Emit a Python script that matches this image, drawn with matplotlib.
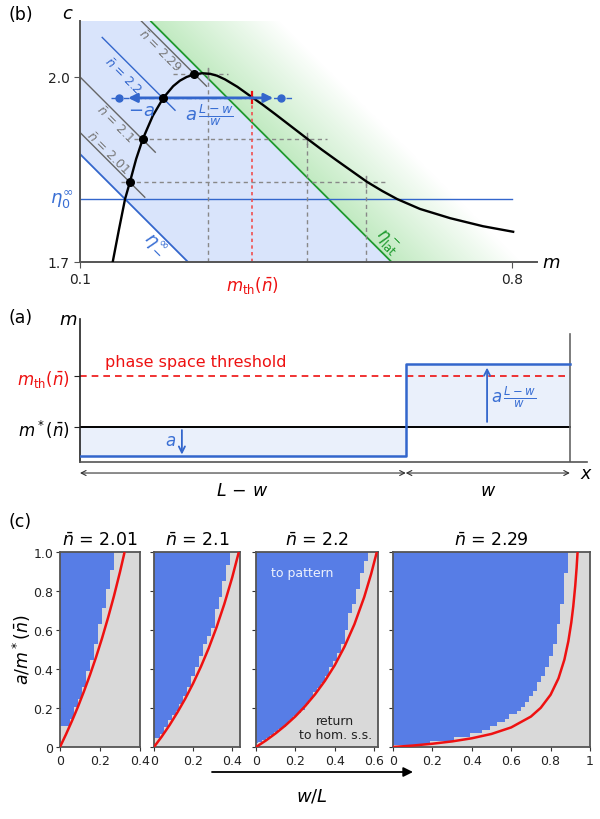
import numpy as np
import matplotlib
matplotlib.use('Agg')
import matplotlib.pyplot as plt

plt.rcParams['font.family'] = ['DejaVu Sans']
plt.rcParams['mathtext.fontset'] = 'dejavusans'

# ---------------- data: panel (b), phase space ----------------
nullcline_m = [0.153, 0.163, 0.173, 0.181, 0.191, 0.202, 0.218, 0.235, 0.251, 0.262,
               0.273, 0.285, 0.298, 0.311, 0.322, 0.335, 0.355, 0.376, 0.396, 0.416,
               0.442, 0.468, 0.492, 0.517, 0.541, 0.565, 0.590, 0.614, 0.651, 0.700,
               0.753, 0.802]
nullcline_c = [1.700, 1.752, 1.802, 1.830, 1.867, 1.900, 1.937, 1.966, 1.985, 1.994,
               2.000, 2.004, 2.006, 2.005, 2.002, 1.996, 1.984, 1.969, 1.955, 1.940,
               1.920, 1.900, 1.882, 1.864, 1.847, 1.830, 1.815, 1.802, 1.786, 1.771,
               1.758, 1.749]

nbar_values = [2.01, 2.1, 2.2, 2.29]
nbar_labels = ['2.01', '2.1', '2.2', '2.29']
nbar_left_m = [0.181, 0.202, 0.235, 0.285]      # homogeneous steady states
nbar_left_c = [1.830, 1.900, 1.966, 2.005]
nbar_right_m = [0.563, 0.468, 0.379, 0.307]     # threshold on the right branch
nbar_seg_m0 = [0.100, 0.100, 0.136, 0.198]
nbar_seg_m1 = [0.205, 0.222, 0.254, 0.305]
nbar_label_m = [0.144, 0.157, 0.168, 0.228]
nbar_label_c = [1.878, 1.925, 2.002, 2.044]

eta0_inf = 1.802
eta_minus_sum = 1.975
eta_lat_sum = 2.305
m_th_value = 0.379
perturb_left_m = 0.163
perturb_right_m = 0.426

# ---------------- data: panel (a), schematic profile ----------------
m_star_level = 1.0
m_th_level = 2.0
low_level = 0.43
high_level = 2.235
w_frac = 0.335

# ---------------- data: panel (c), outcome maps ----------------
panel_nbar = ['2.01', '2.1', '2.2', '2.29']
panel_xmax = [0.40, 0.44, 0.62, 1.0]

w_grid_1 = [0.00, 0.02, 0.04, 0.06, 0.08, 0.10, 0.12, 0.14, 0.16, 0.18, 0.20, 0.22,
            0.24, 0.26, 0.28]
a_thr_1 = [0.107, 0.107, 0.107, 0.145, 0.204, 0.247, 0.306, 0.388, 0.447, 0.527,
           0.629, 0.711, 0.808, 0.910, 1.0]

w_grid_2 = [0.00, 0.02, 0.04, 0.06, 0.08, 0.10, 0.12, 0.14, 0.16, 0.18, 0.20, 0.22,
            0.24, 0.26, 0.28, 0.30, 0.32, 0.34, 0.36, 0.38, 0.40]
a_thr_2 = [0.048, 0.048, 0.068, 0.102, 0.136, 0.165, 0.187, 0.221, 0.264, 0.306,
           0.366, 0.410, 0.468, 0.527, 0.570, 0.612, 0.709, 0.769, 0.850, 0.935, 1.0]

w_grid_3 = [0.00, 0.02, 0.04, 0.06, 0.08, 0.10, 0.12, 0.14, 0.16, 0.18, 0.20, 0.22,
            0.24, 0.26, 0.28, 0.30, 0.32, 0.34, 0.36, 0.38, 0.40, 0.42, 0.44, 0.46,
            0.48, 0.50, 0.52, 0.54, 0.56, 0.58]
a_thr_3 = [0.020, 0.026, 0.037, 0.048, 0.060, 0.077, 0.090, 0.104, 0.121, 0.138,
           0.157, 0.172, 0.190, 0.221, 0.247, 0.280, 0.305, 0.330, 0.366, 0.408,
           0.442, 0.480, 0.527, 0.600, 0.689, 0.731, 0.808, 0.893, 0.952, 1.0]

w_grid_4 = [0.00, 0.02, 0.04, 0.06, 0.08, 0.10, 0.12, 0.14, 0.16, 0.18, 0.20, 0.22,
            0.24, 0.26, 0.28, 0.30, 0.32, 0.34, 0.36, 0.38, 0.40, 0.42, 0.44, 0.46,
            0.48, 0.50, 0.52, 0.54, 0.56, 0.58, 0.60, 0.62, 0.64, 0.66, 0.68, 0.70,
            0.72, 0.74, 0.76, 0.78, 0.80, 0.82, 0.84, 0.86, 0.88, 0.90]
a_thr_4 = [0.012, 0.012, 0.012, 0.012, 0.012, 0.012, 0.012, 0.012, 0.012, 0.012,
           0.031, 0.031, 0.031, 0.031, 0.031, 0.031, 0.051, 0.051, 0.051, 0.051,
           0.071, 0.071, 0.071, 0.088, 0.088, 0.107, 0.107, 0.128, 0.128, 0.145,
           0.170, 0.170, 0.187, 0.207, 0.230, 0.264, 0.289, 0.332, 0.366, 0.408,
           0.468, 0.527, 0.629, 0.731, 0.893, 1.0]

# linear-stability threshold curves  a/m* vs w/L
red_w_1 = [0.0, 0.03, 0.06, 0.09, 0.12, 0.15, 0.18, 0.21, 0.24, 0.27, 0.30, 0.323]
red_a_1 = [0.0, 0.065, 0.134, 0.207, 0.286, 0.370, 0.460, 0.557, 0.662, 0.775, 0.898, 1.0]
red_w_2 = [0.0, 0.04, 0.08, 0.12, 0.16, 0.20, 0.24, 0.28, 0.32, 0.36, 0.40, 0.434]
red_a_2 = [0.0, 0.054, 0.113, 0.178, 0.248, 0.326, 0.412, 0.507, 0.614, 0.734, 0.869, 1.0]
red_w_3 = [0.0, 0.05, 0.10, 0.15, 0.20, 0.25, 0.30, 0.35, 0.40, 0.45, 0.50, 0.55, 0.585, 0.614]
red_a_3 = [0.0, 0.033, 0.070, 0.111, 0.157, 0.210, 0.270, 0.339, 0.419, 0.515, 0.629, 0.769, 0.887, 1.0]
red_w_4 = [0.0, 0.1, 0.2, 0.3, 0.4, 0.5, 0.6, 0.7, 0.75, 0.8, 0.84, 0.87, 0.89, 0.905,
           0.915, 0.925, 0.932, 0.937]
red_a_4 = [0.0, 0.0074, 0.0168, 0.0287, 0.0447, 0.067, 0.1005, 0.156, 0.201, 0.268,
           0.352, 0.448, 0.542, 0.638, 0.721, 0.826, 0.918, 1.0]

# ---------------- styling ----------------
BLUE = '#3366cc'
BLUE_TXT = '#3a6fd4'
GREEN = '#1f9a2e'
RED = '#ee1111'
GRAY = '#666666'
SPINE = '#555555'
MAP_BLUE = '#577de6'
MAP_GRAY = '#d9d9d9'

W, H = 600, 820
def fx(x): return x / W
def fy(y): return 1 - y / H
def box(x0, y0, x1, y1): return [x0 / W, 1 - y1 / H, (x1 - x0) / W, (y1 - y0) / H]

fig = plt.figure(figsize=(6, 8.2), dpi=100)

# ======================= panel (b) =======================
axb = fig.add_axes(box(80, 22.4, 536.6, 263))
mlo, mhi, clo, chi = 0.1, 0.84, 1.7, 2.09
axb.set_xlim(mlo, mhi)
axb.set_ylim(clo, chi)
for s in ['top', 'right']:
    axb.spines[s].set_visible(False)
for s in ['left', 'bottom']:
    axb.spines[s].set_color(SPINE)
    axb.spines[s].set_linewidth(1.4)

# green fading region beyond the lateral-instability line
mm, cc = np.meshgrid(np.linspace(mlo, mhi, 400), np.linspace(clo, chi, 220))
t = (mm + cc - eta_lat_sum) / 0.21
alpha = np.where(t >= 0, np.clip(1 - t, 0, 1), 0.0)
img = np.zeros(mm.shape + (4,))
img[..., 0] = 0.76
img[..., 1] = 0.92
img[..., 2] = 0.76
img[..., 3] = alpha
axb.imshow(img, extent=[mlo, mhi, clo, chi], origin='lower', aspect='auto',
           zorder=0, interpolation='bilinear')

# blue band between eta_-^inf and eta_lat^-
band_m = np.array([mlo, mhi])
axb.fill_between(band_m, eta_minus_sum - band_m, eta_lat_sum - band_m,
                 color='#d9e4fb', lw=0, zorder=0.5)

# eta_-^inf, eta_lat^- and eta_0^inf lines
axb.plot([mlo, eta_minus_sum - clo], [eta_minus_sum - mlo, clo], color=BLUE, lw=1.3, zorder=2)
axb.plot([eta_lat_sum - chi, eta_lat_sum - clo], [chi, clo], color=GREEN, lw=1.3, zorder=2)
axb.plot([mlo, 0.8], [eta0_inf, eta0_inf], color=BLUE, lw=1.0, zorder=2)

# isolines of total mass
for nb, lab, m0, m1, lm, lc in zip(nbar_values, nbar_labels, nbar_seg_m0, nbar_seg_m1,
                                   nbar_label_m, nbar_label_c):
    col = BLUE if lab == '2.2' else GRAY
    axb.plot([m0, m1], [nb - m0, nb - m1], color=col, lw=1.0, zorder=2)
    axb.text(lm, lc, r'$\bar{n}$ = ' + lab, color=col if lab == '2.2' else '#777777',
             fontsize=9, rotation=-45, ha='center', va='center',
             rotation_mode='anchor', zorder=3)

# dashed guides from each steady state to the right branch
for nb, lab, ml, cl, mr in zip(nbar_values, nbar_labels, nbar_left_m, nbar_left_c, nbar_right_m):
    if lab == '2.2':
        continue
    axb.plot([ml - 0.015 if lab != '2.29' else ml - 0.035, mr + 0.033], [cl, cl],
             color='#888888', lw=1.0, ls=(0, (3, 2.5)), zorder=2.5)
    axb.plot([mr, mr], [clo, cl + 0.009], color='#888888', lw=1.0, ls=(0, (3, 2.5)), zorder=2.5)
    axb.plot([mr, mr], [cl - 0.008, cl + 0.009], color='#888888', lw=1.0, zorder=2.5)

# threshold for nbar = 2.2
c22 = nbar_left_c[2]
axb.plot([m_th_value, m_th_value], [clo, c22 + 0.01], color='#f05050', lw=1.2,
         ls=(0, (2, 2)), zorder=2.5)
axb.plot([m_th_value, m_th_value], [c22 - 0.009, c22 + 0.01], color=RED, lw=1.6, zorder=4)

# nullcline
axb.plot(nullcline_m, nullcline_c, color='black', lw=1.7, zorder=3)

# perturbation arrows
axb.plot([perturb_left_m - 0.012, perturb_right_m + 0.018], [c22, c22], color=BLUE,
         lw=1.0, ls=(0, (4, 2, 1, 2)), zorder=3)
axb.annotate('', xy=(perturb_left_m + 0.015, c22), xytext=(nbar_left_m[2], c22),
             arrowprops=dict(arrowstyle='-|>', color=BLUE, lw=2.0, mutation_scale=13,
                             shrinkA=0, shrinkB=0), zorder=4)
axb.annotate('', xy=(perturb_right_m - 0.013, c22), xytext=(nbar_left_m[2], c22),
             arrowprops=dict(arrowstyle='-|>', color=BLUE, lw=2.0, mutation_scale=13,
                             shrinkA=0, shrinkB=0), zorder=4)
axb.plot([perturb_left_m, perturb_right_m], [c22, c22], 'o', color=BLUE, ms=5, zorder=5)

# steady states
axb.plot(nbar_left_m, nbar_left_c, 'o', color='black', ms=5.5, zorder=6)

axb.text(0.200, 1.947, r'$-a$', color=BLUE_TXT, fontsize=13, ha='center', va='center')
axb.text(0.309, 1.940, r'$a\,\frac{L-w}{w}$', color=BLUE_TXT, fontsize=13, ha='center', va='center')
axb.text(0.071, eta0_inf, r'$\eta_0^\infty$', color=BLUE_TXT, fontsize=13, ha='center', va='center')
axb.text(0.2216, 1.729, r'$\eta_-^\infty$', color=BLUE_TXT, fontsize=13, rotation=-45,
         ha='center', va='center', rotation_mode='anchor')
axb.text(0.5976, 1.733, r'$\eta_{\mathrm{lat}}^-$', color=GREEN, fontsize=12, rotation=-45,
         ha='center', va='center', rotation_mode='anchor')

axb.set_xticks([0.1, 0.8])
axb.set_xticklabels(['0.1', '0.8'])
axb.set_yticks([1.7, 2.0])
axb.set_yticklabels(['1.7', '2.0'])
axb.tick_params(direction='out', length=4, color=SPINE, labelsize=10, labelcolor='#222222')
axb.text(m_th_value, 1.7 - 0.036, r'$m_{\mathrm{th}}(\bar{n})$', color=RED, fontsize=12,
         ha='center', va='center', clip_on=False)
fig.text(fx(68), fy(14), r'$c$', fontsize=13, ha='center', va='center')
fig.text(fx(551), fy(263), r'$m$', fontsize=13, ha='center', va='center')
fig.text(fx(8), fy(15), '(b)', fontsize=12.5, ha='left', va='center')

# ======================= panel (a) =======================
axa = fig.add_axes(box(80, 320, 587, 463))
axa.set_xlim(0, 1.035)
axa.set_ylim(0.314, 3.118)
for s in ['top', 'right']:
    axa.spines[s].set_visible(False)
axa.spines['left'].set_color('#222222')
axa.spines['bottom'].set_color(SPINE)
axa.spines['left'].set_linewidth(1.2)
axa.spines['bottom'].set_linewidth(1.2)

xs = 1 - w_frac
axa.fill_between([0, xs], [low_level, low_level], [m_star_level, m_star_level],
                 color='#eaf0fb', lw=0, zorder=0)
axa.fill_between([xs, 1], [m_star_level, m_star_level], [high_level, high_level],
                 color='#eaf0fb', lw=0, zorder=0)
axa.plot([0, 1], [m_th_level, m_th_level], color=RED, lw=1.2, ls=(0, (4, 3)), zorder=2)
axa.plot([0, 1], [m_star_level, m_star_level], color='black', lw=1.4, zorder=2)
axa.plot([0, xs, xs, 1], [low_level, low_level, high_level, high_level], color=BLUE,
         lw=1.8, zorder=3)
axa.plot([1, 1], [0.314, 2.82], color=GRAY, lw=1.2, zorder=2)

axa.annotate('', xy=(0.208, low_level + 0.03), xytext=(0.208, m_star_level - 0.06),
             arrowprops=dict(arrowstyle='->', color=BLUE, lw=1.3, mutation_scale=11,
                             shrinkA=0, shrinkB=0))
axa.text(0.184, 0.745, r'$a$', color=BLUE_TXT, fontsize=12, ha='center', va='center')
axa.annotate('', xy=(0.831, high_level - 0.07), xytext=(0.831, m_star_level + 0.1),
             arrowprops=dict(arrowstyle='->', color=BLUE, lw=1.3, mutation_scale=11,
                             shrinkA=0, shrinkB=0))
axa.text(0.839, 1.60, r'$a\,\frac{L-w}{w}$', color=BLUE_TXT, fontsize=12, ha='left', va='center')
axa.text(0.237, 2.29, 'phase space threshold', color=RED, fontsize=11.5, ha='center', va='center')

axa.set_xticks([])
axa.set_yticks([m_th_level, m_star_level])
axa.set_yticklabels([r'$m_{\mathrm{th}}(\bar{n})$', r'$m^*(\bar{n})$'], fontsize=12)
axa.get_yticklabels()[0].set_color(RED)
axa.tick_params(axis='y', direction='out', length=4, color='#222222')

ya = 1 - (474 - 428) / 51
for x0, x1 in [(0, xs), (xs, 1)]:
    axa.annotate('', xy=(x1, ya), xytext=(x0, ya),
                 arrowprops=dict(arrowstyle='<->,head_length=0.35,head_width=0.18',
                                 color='#333333', lw=0.8, shrinkA=0, shrinkB=0),
                 annotation_clip=False)
yl = 1 - (491 - 428) / 51
axa.text(xs / 2, yl, r'$L\,-\,w$', fontsize=12.5, ha='center', va='center', clip_on=False)
axa.text((xs + 1) / 2, yl, r'$w$', fontsize=12.5, ha='center', va='center', clip_on=False)
axa.text(1.033, ya, r'$x$', fontsize=12.5, ha='center', va='center', clip_on=False)
fig.text(fx(68), fy(320), r'$m$', fontsize=13, ha='center', va='center')
fig.text(fx(8), fy(318), '(a)', fontsize=12.5, ha='left', va='center')

# ======================= panel (c) =======================
boxes = [box(60, 553, 140, 748), box(154, 553, 240, 748),
         box(256, 553, 378, 748), box(393, 553, 590, 748)]
grids = [(w_grid_1, a_thr_1), (w_grid_2, a_thr_2), (w_grid_3, a_thr_3), (w_grid_4, a_thr_4)]
reds = [(red_w_1, red_a_1), (red_w_2, red_a_2), (red_w_3, red_a_3), (red_w_4, red_a_4)]
xtick_sets = [[0, 0.2, 0.4], [0, 0.2, 0.4], [0, 0.2, 0.4, 0.6], [0, 0.2, 0.4, 0.6, 0.8, 1.0]]
xlabel_sets = [['0', '0.2', '0.4'], ['0', '0.2', '0.4'], ['0', '0.2', '0.4', '0.6'],
               ['0', '0.2', '0.4', '0.6', '0.8', '1']]

for i in range(4):
    ax = fig.add_axes(boxes[i])
    ax.set_facecolor(MAP_GRAY)
    wg, thr = grids[i]
    ax.fill_between(wg, thr, np.ones(len(thr)), step='mid', color=MAP_BLUE, lw=0, zorder=1)
    rw, ra = reds[i]
    ax.plot(rw, ra, color=RED, lw=1.8, zorder=3, solid_capstyle='butt')
    ax.set_xlim(0, panel_xmax[i])
    ax.set_ylim(0, 1)
    for s in ax.spines.values():
        s.set_color(SPINE)
        s.set_linewidth(1.3)
    ax.set_xticks(xtick_sets[i])
    ax.set_xticklabels(xlabel_sets[i])
    ax.set_yticks([0, 0.2, 0.4, 0.6, 0.8, 1.0])
    if i == 0:
        ax.set_yticklabels(['0', '0.2', '0.4', '0.6', '0.8', '1.0'])
    else:
        ax.set_yticklabels([])
    ax.tick_params(direction='out', length=3, color='#333333', labelsize=9,
                   labelcolor='#222222', pad=2)
    ax.set_title(r'$\bar{n}$ = ' + panel_nbar[i], fontsize=12.5, pad=5)
    if i == 2:
        ax.text(0.235, 0.897, 'to pattern', color='#eef2fd', fontsize=9, ha='center', va='center')
        ax.text(0.403, 0.10, 'return\nto hom. s.s.', color='#222222', fontsize=9,
                ha='center', va='center', linespacing=1.1)

fig.text(fx(22), fy(650), r'$a/m^*(\bar{n})$', fontsize=12.5, rotation=90,
         ha='center', va='center')
fig.text(fx(8), fy(522), '(c)', fontsize=12.5, ha='left', va='center')

axa.annotate('', xy=(fx(413), fy(773)), xytext=(fx(212), fy(773)),
             xycoords='figure fraction', textcoords='figure fraction',
             arrowprops=dict(arrowstyle='-|>', color='black', lw=1.3, mutation_scale=14,
                             shrinkA=0, shrinkB=0), annotation_clip=False)
fig.text(fx(312), fy(797), r'$w/L$', fontsize=13, ha='center', va='center')

fig.savefig('out.png', dpi=100)
